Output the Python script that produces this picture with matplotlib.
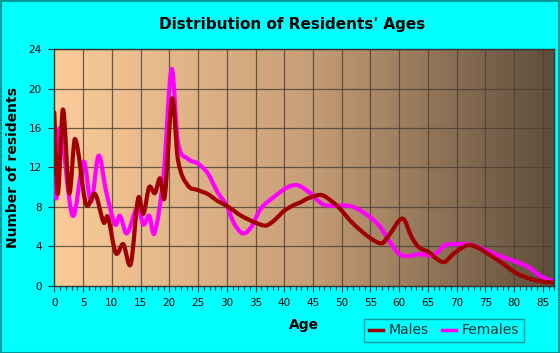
import numpy as np
import matplotlib
matplotlib.use("Agg")
import matplotlib.pyplot as plt
from matplotlib.path import Path
from matplotlib.patches import PathPatch
from matplotlib.colors import LinearSegmentedColormap
from matplotlib.lines import Line2D

# ages / counts
male_ages = [0, 0.6, 1.5, 2.6, 3.6, 5.5, 7.1, 8.6, 9.3, 10.7, 12.0, 13.3, 14.6,
             15.5, 16.5, 17.5, 18.4, 19.2, 20.5, 21.5, 23.2, 25, 26.7, 28.4, 30,
             32.5, 35, 36.8, 38.2, 40, 41.7, 42.6, 44.3, 46.5, 48.4, 49.7, 51.8,
             54.8, 57.0, 58.2, 60.6, 62.2, 63.4, 65.1, 66.8, 67.9, 69.4, 71.8,
             73.5, 75.8, 78.1, 80.4, 82.7, 84.5, 87]
male_counts = [17.6, 9.3, 17.9, 9.4, 14.9, 8.3, 9.3, 6.4, 7.0, 3.3, 4.2, 2.2, 8.9,
               7.3, 10.0, 9.4, 10.9, 9.0, 19.0, 12.8, 10.2, 9.7, 9.3, 8.6, 8.1,
               7.1, 6.4, 6.1, 6.6, 7.6, 8.2, 8.4, 8.9, 9.2, 8.5, 7.8, 6.4,
               4.9, 4.3, 5.1, 6.8, 4.9, 3.9, 3.4, 2.6, 2.4, 3.2, 4.1,
               3.9, 3.1, 2.2, 1.25, 0.7, 0.45, 0.3]

female_ages = [0, 0.4, 0.9, 3.2, 5.1, 6.4, 7.7, 9.0, 10.6, 11.4, 12.6, 14.5, 15.5,
               16.5, 17.4, 19.0, 20.4, 21.5, 23.2, 25, 26.7, 28.4, 30, 31.3,
               32.8, 34.2, 35.9, 38.2, 40.6, 42.3, 44.3, 46.6, 48.4, 51.3, 53.6,
               56.5, 58.2, 60, 61.7, 63.4, 66, 68, 70, 72.3, 74.6, 77.5, 80.4,
               82.4, 84.5, 87]
female_counts = [11.0, 9.0, 16.0, 7.1, 12.6, 8.5, 13.2, 9.6, 6.2, 7.1, 5.3, 8.0, 6.2,
                 7.1, 5.3, 11.2, 22.0, 14.6, 12.9, 12.4, 11.4, 9.5, 8.1, 6.3,
                 5.3, 5.9, 7.8, 9.0, 10.0, 10.2, 9.5, 8.3, 8.1, 8.1, 7.5,
                 6.1, 4.6, 3.2, 3.0, 3.2, 3.1, 4.1, 4.2, 4.2, 3.7, 3.0, 2.4,
                 1.9, 1.0, 0.35]

x_ticks = list(range(0, 90, 5))
y_ticks = list(range(0, 25, 4))

BG = "#00FFFF"
MALE = "#A00000"
FEMALE = "#FF00FF"


def smooth_path(xs, ys):
    # cubic hermite through the points, drawn as bezier segments
    xs = np.asarray(xs, float)
    ys = np.asarray(ys, float)
    n = len(xs)
    m = np.zeros(n)
    for i in range(n):
        if i == 0:
            m[i] = (ys[1] - ys[0]) / (xs[1] - xs[0])
        elif i == n - 1:
            m[i] = (ys[-1] - ys[-2]) / (xs[-1] - xs[-2])
        else:
            m[i] = (ys[i + 1] - ys[i - 1]) / (xs[i + 1] - xs[i - 1])
    verts = [(xs[0], ys[0])]
    codes = [Path.MOVETO]
    for i in range(n - 1):
        dx = xs[i + 1] - xs[i]
        verts += [(xs[i] + dx / 3, ys[i] + m[i] * dx / 3),
                  (xs[i + 1] - dx / 3, ys[i + 1] - m[i + 1] * dx / 3),
                  (xs[i + 1], ys[i + 1])]
        codes += [Path.CURVE4] * 3
    return Path(verts, codes)


fig = plt.figure(figsize=(5.6, 3.53), dpi=100, facecolor=BG)
fig.patches.append(plt.Rectangle((0.001, 0.001), 0.998, 0.997, transform=fig.transFigure,
                                 fill=False, edgecolor="#009999", lw=1.5))
ax = fig.add_axes([0.097, 0.191, 0.893, 0.669])
ax.set_xlim(0, 87)
ax.set_ylim(0, 24)

cmap = LinearSegmentedColormap.from_list(
    "bg", [(0, "#FCCC99"), (0.5, "#C89F78"), (1, "#5E4D3B")])
grad = np.linspace(0, 1, 256).reshape(1, -1)
ax.imshow(grad, cmap=cmap, aspect="auto", extent=(0, 87, 0, 24), zorder=0)

for xt in x_ticks[1:]:
    ax.axvline(xt, color="#4a3f35", lw=0.9, alpha=0.8, zorder=1)
for yt in y_ticks[1:]:
    ax.axhline(yt, color="#4a3f35", lw=0.9, alpha=0.8, zorder=1)

ax.add_patch(PathPatch(smooth_path(female_ages, female_counts), fill=False,
                       edgecolor=FEMALE, lw=3.0, capstyle="round",
                       joinstyle="round", zorder=3, clip_on=True))
ax.add_patch(PathPatch(smooth_path(male_ages, male_counts), fill=False,
                       edgecolor=MALE, lw=3.0, capstyle="round",
                       joinstyle="round", zorder=4, clip_on=True))

for s in ax.spines.values():
    s.set_color("#333333")
    s.set_linewidth(1.0)

ax.set_xticks(x_ticks)
ax.set_xticks(range(0, 88), minor=True)
ax.set_yticks(y_ticks)
ax.tick_params(axis="both", which="major", length=4, width=0.8, color="#333333",
               labelsize=7.5, pad=5)
ax.tick_params(axis="x", which="minor", length=3, width=0.8, color="#333333")

ax.set_xlabel("Age", fontsize=10, fontweight="bold", labelpad=7)
ax.set_ylabel("Number of residents", fontsize=10, fontweight="bold", labelpad=6)
fig.text(0.522, 0.93, "Distribution of Residents' Ages", ha="center",
         va="center", fontsize=11, fontweight="bold")

handles = [Line2D([], [], color=MALE, lw=2.5), Line2D([], [], color=FEMALE, lw=2.5)]
leg = fig.legend(handles, ["Males", "Females"], loc="center",
                 bbox_to_anchor=(0.793, 0.064), ncol=2, frameon=True,
                 fontsize=10, handlelength=1.0, handletextpad=0.4,
                 columnspacing=1.0, borderpad=0.35, fancybox=False)
leg.get_frame().set_edgecolor("#008080")
leg.get_frame().set_facecolor(BG)
leg.get_frame().set_linewidth(1.0)
for t in leg.get_texts():
    t.set_color("#003333")

fig.savefig("out.png", dpi=100, facecolor=BG)
